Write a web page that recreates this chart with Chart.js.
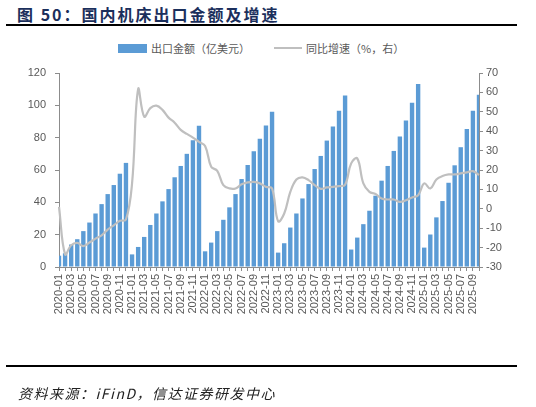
<!DOCTYPE html>
<html>
<head>
<meta charset="utf-8">
<script src="https://cdn.jsdelivr.net/npm/chart.js@4.4.1/dist/chart.umd.min.js"></script>
<style>
body{margin:0;width:536px;height:407px;background:#fff;position:relative;overflow:hidden;font-family:"Noto Sans CJK SC",sans-serif}
#title{position:absolute;left:17px;top:2px;font-size:16px;font-weight:bold;color:#1b2f5c;letter-spacing:2px;white-space:nowrap}
.rule{position:absolute;left:6px;width:511px;height:2px;background:#000}
#legend{position:absolute;top:38px;left:118px;font-size:11px;color:#595959;white-space:nowrap}
#legend span{display:inline-block;vertical-align:middle}
.sw-bar{width:29px;height:9px;background:#5b9bd5;margin-right:4px}
.sw-line{width:28px;height:2px;background:#bfbfbf;margin-left:24px;margin-right:4px}
#foot{position:absolute;left:18px;top:383px;font-size:14px;font-style:italic;color:#222;letter-spacing:1.5px;white-space:nowrap}
canvas{position:absolute;left:0;top:0}
</style>
</head>
<body>
<div id="title">图 50：国内机床出口金额及增速</div>
<div class="rule" style="top:24px"></div>
<div id="legend"><span class="sw-bar"></span><span>出口金额（亿美元）</span><span class="sw-line"></span><span>同比增速（%，右）</span></div>
<canvas id="chart" width="536" height="407"></canvas>
<div class="rule" style="top:365px"></div>
<div id="foot">资料来源：iFinD，信达证券研发中心</div>
<script>
const months = [
  '2020-01','2020-02','2020-03','2020-04','2020-05','2020-06','2020-07','2020-08','2020-09','2020-10','2020-11','2020-12',
  '2021-01','2021-02','2021-03','2021-04','2021-05','2021-06','2021-07','2021-08','2021-09','2021-10','2021-11','2021-12',
  '2022-01','2022-02','2022-03','2022-04','2022-05','2022-06','2022-07','2022-08','2022-09','2022-10','2022-11','2022-12',
  '2023-01','2023-02','2023-03','2023-04','2023-05','2023-06','2023-07','2023-08','2023-09','2023-10','2023-11','2023-12',
  '2024-01','2024-02','2024-03','2024-04','2024-05','2024-06','2024-07','2024-08','2024-09','2024-10','2024-11','2024-12',
  '2025-01','2025-02','2025-03','2025-04','2025-05','2025-06','2025-07','2025-08','2025-09','2025-10'
];

// 出口金额（亿美元），累计值
const exportValue = [
  7, 8.5, 13.9, 17.2, 22.2, 27.5, 33.1, 38.9, 45.1, 50.7, 57.7, 64.4,
  7.8, 12.4, 18.6, 26, 33.1, 40.6, 48.2, 55.5, 62.5, 70, 78.4, 87.3,
  9.7, 15.1, 22.2, 29.2, 36.9, 45.1, 54.4, 63.1, 71.6, 79.3, 87.6, 96,
  8.9, 14.7, 24.4, 33.1, 42.4, 51.3, 60.6, 68.7, 78.2, 86.9, 96.6, 106.1,
  10.8, 18.2, 26.5, 34.8, 44.1, 53.4, 62.5, 71.8, 80.7, 90.6, 101.6, 113.2,
  12, 20.1, 30.7, 40.8, 52.1, 62.9, 74.1, 85.3, 96.6, 106.6
];

// 同比增速（%）
const yoyGrowth = [
  1, -23.5, -18.8, -17.6, -19.2, -17.4, -15.4, -13.7, -10.7, -8.5, -6.2, -5.5,
  13, 61.7, 47.5, 51.9, 53.2, 51, 47, 44.4, 40.7, 38.6, 36.7, 34.5,
  32.4, 21.7, 19.6, 12.2, 10.5, 10.5, 12.6, 13.6, 13.9, 13.1, 11.3, 10.5,
  -6.4, -2.4, 8.7, 15.1, 16.2, 14.8, 12.2, 10.3, 11, 11.3, 11.7, 12.4,
  23.4, 26, 13.1, 8.7, 7.6, 5.3, 4.8, 4.8, 3.6, 4.4, 5.8, 7,
  13.1, 10.5, 15.1, 16.9, 17.7, 17.7, 18.3, 18.8, 19.4, 17.4
];

const leftTicks = { min: 0, max: 120, step: 20 };
const rightTicks = { min: -30, max: 70, step: 10 };

const axisColor = '#8c8c8c';
const tickFont = { family: '"Liberation Sans", Arial, sans-serif', size: 11 };

const ctx = document.querySelector('#chart').getContext('2d');

new Chart(ctx, {
  type: 'bar',
  data: {
    labels: months,
    datasets: [
      {
        type: 'line',
        label: '同比增速（%，右）',
        data: yoyGrowth,
        yAxisID: 'y1',
        borderColor: '#bfbfbf',
        borderWidth: 2.2,
        pointRadius: 0,
        tension: 0.4,
        order: 0
      },
      {
        label: '出口金额（亿美元）',
        data: exportValue,
        yAxisID: 'y',
        backgroundColor: '#5b9bd5',
        categoryPercentage: 0.72,
        barPercentage: 1,
        clip: 0,   // 首尾两根柱子被坐标轴截去一半
        order: 1
      }
    ]
  },
  options: {
    responsive: false,
    animation: false,
    layout: { padding: { top: 73, left: 0, right: 0, bottom: 0 } },
    plugins: { legend: { display: false }, tooltip: { enabled: false } },
    scales: {
      x: {
        offset: false,
        grid: { display: true, drawOnChartArea: false, drawTicks: true, tickLength: 4, color: axisColor, offset: false },
        border: { display: true, color: axisColor, width: 1 },
        ticks: {
          autoSkip: false,
          maxRotation: 90,
          minRotation: 90,
          padding: 3,
          color: '#595959',
          font: tickFont,
          callback: (v, i) => (i % 2 === 0 ? months[i] : '')
        },
        afterFit: s => { s.height = 140; }
      },
      y: {
        position: 'left',
        min: leftTicks.min,
        max: leftTicks.max,
        grid: { display: true, drawOnChartArea: false, drawTicks: true, tickLength: 4, color: axisColor },
        border: { display: true, color: axisColor, width: 1 },
        ticks: { stepSize: leftTicks.step, padding: 9, color: '#595959', font: tickFont },
        afterFit: s => { s.width = 59; }
      },
      y1: {
        position: 'right',
        min: rightTicks.min,
        max: rightTicks.max,
        grid: { display: true, drawOnChartArea: false, drawTicks: true, tickLength: 4, color: axisColor },
        border: { display: true, color: axisColor, width: 1 },
        ticks: { stepSize: rightTicks.step, padding: 3, color: '#595959', font: tickFont },
        afterFit: s => { s.width = 57; }
      }
    }
  }
});
</script>
</body>
</html>
